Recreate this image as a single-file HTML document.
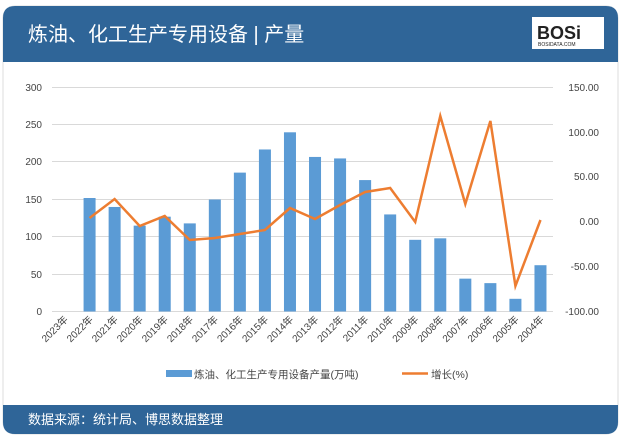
<!DOCTYPE html>
<html><head><meta charset="utf-8"><style>
body{margin:0;width:621px;height:437px;background:#fff;overflow:hidden;font-family:"Liberation Sans","Noto Sans CJK SC",sans-serif}
</style></head><body>
<svg width="621" height="437" xmlns="http://www.w3.org/2000/svg" font-family="Liberation Sans, Noto Sans CJK SC, sans-serif">
<rect x="3" y="6" width="615" height="428" rx="12" fill="#fff" stroke="#ddd"/>
<path d="M3 62 V18 Q3 6 15 6 H606 Q618 6 618 18 V62 Z" fill="#2f6598"/>
<text x="28" y="41" font-size="20" fill="#fff">炼油、化工生产专用设备 | 产量</text>
<rect x="532" y="17" width="72" height="32" fill="#fff"/>
<text x="537" y="39" font-size="18" font-weight="bold" fill="#222">BOSi</text>
<text x="538" y="46" font-size="5" fill="#222">BOSIDATA.COM</text>
<path d="M3 405 H618 V422 Q618 434 606 434 H15 Q3 434 3 422 Z" fill="#2f6598"/>
<text x="28" y="424" font-size="13" fill="#fff">数据来源：统计局、博思数据整理</text>
<g stroke="#d9d9d9" stroke-width="1">
<line x1="52" y1="87.5" x2="553" y2="87.5"/><line x1="52" y1="124.5" x2="553" y2="124.5"/>
<line x1="52" y1="161.5" x2="553" y2="161.5"/><line x1="52" y1="199.5" x2="553" y2="199.5"/>
<line x1="52" y1="236.5" x2="553" y2="236.5"/><line x1="52" y1="274.5" x2="553" y2="274.5"/>
<line x1="52" y1="311.5" x2="553" y2="311.5"/>
</g>
<g font-size="10" fill="#444" text-anchor="end">
<text x="42" y="91">300</text><text x="42" y="128">250</text><text x="42" y="165">200</text>
<text x="42" y="203">150</text><text x="42" y="240">100</text><text x="42" y="278">50</text><text x="42" y="315">0</text>
</g>
<g font-size="10" fill="#444" text-anchor="end">
<text x="599" y="91">150.00</text><text x="599" y="136">100.00</text><text x="599" y="180">50.00</text>
<text x="599" y="225">0.00</text><text x="599" y="270">-50.00</text><text x="599" y="315">-100.00</text>
</g>
<g fill="#5b9bd5" id="bars"></g>
<polyline id="ln" fill="none" stroke="#ed7d31" stroke-width="2.5"/>
<g id="lbl" font-size="10" fill="#444"></g>
<rect x="166" y="370" width="26" height="7" fill="#5b9bd5"/>
<text x="194" y="378" font-size="10.5" fill="#444">炼油、化工生产专用设备产量(万吨)</text>
<line x1="402" y1="373.5" x2="428" y2="373.5" stroke="#ed7d31" stroke-width="2.5"/>
<text x="431" y="378" font-size="10.5" fill="#444">增长(%)</text>
</svg>
<script>
var v=[0,152,140,115,127,118,150,186,217,240,207,205,176,130,96,98,44,38,17,62];
var g=[null,218,199,226,216,240,238,234,230,208,219,205,192,188,222,116,204,121,286,220];
var ns="http://www.w3.org/2000/svg",b=document.getElementById('bars'),l=document.getElementById('lbl'),pts=[];
for(var i=0;i<20;i++){var cx=52+25.05*(i+0.5);var yr=2023-i;
if(v[i]>0){var h=v[i]*224/300,r=document.createElementNS(ns,'rect');r.setAttribute('x',cx-6);r.setAttribute('y',311.5-h);r.setAttribute('width',12);r.setAttribute('height',h);b.appendChild(r);}
if(g[i]!=null)pts.push(cx+','+g[i]);
var t=document.createElementNS(ns,'text');t.setAttribute('transform','translate('+(cx+4)+',320) rotate(-45)');t.setAttribute('text-anchor','end');t.textContent=yr+'年';l.appendChild(t);}
document.getElementById('ln').setAttribute('points',pts.join(' '));
</script>
</body></html>
